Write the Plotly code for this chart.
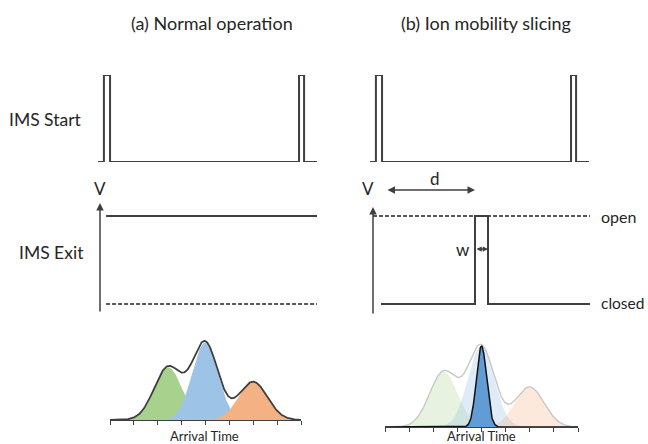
import numpy as np
import plotly.graph_objects as go

W, H = 648, 444

# ---------------- data ----------------
# IMS start pulse train (time in % of cycle, level 0/1)
START_T = [0, 2.7, 2.7, 5.5, 5.5, 91.8, 91.8, 94.1, 94.1, 100]
START_V = [0, 0, 1, 1, 0, 0, 1, 1, 0, 0]

# IMS exit gate (a): always open
EXIT_A_OPEN_T = [2.8, 100]
EXIT_A_CLOSED_T = [2.8, 100]
# IMS exit gate (b): slicing window
GATE_T = [3.7, 47.0, 47.0, 53.0, 53.0, 100]
GATE_V = [0, 0, 1, 1, 0, 0]
OPEN_REF_T = [0, 100]

# arrival-time peaks (arrival time units 0..8)
PEAK_NAMES = ["green", "blue", "orange"]
PEAK_CENTERS = [2.43, 3.98, 5.99]
PEAK_HEIGHTS = [0.62, 0.91, 0.45]
PEAK_SIGMAS = [0.58, 0.54, 0.60]
SLICE_CENTER = 4.0
SLICE_HEIGHT = 0.91
SLICE_SIGMA = 0.21

COLORS = ["rgb(169,209,142)", "rgb(157,195,230)", "rgb(244,177,131)"]
FADED = ["rgba(169,209,142,0.28)", "rgba(157,195,230,0.32)", "rgba(244,177,131,0.28)"]
LINE = "#3f3f3f"
FONT = "Lato"


def px_x(x0, x1):
    return [x0 / W, x1 / W]


def px_y(ytop, ybot):
    return [1 - ybot / H, 1 - ytop / H]


fig = go.Figure()

t = np.linspace(0, 8, 400)


def gauss(c, h, s):
    return h * np.exp(-0.5 * ((t - c) / s) ** 2)


comps = [gauss(c, h, s) for c, h, s in zip(PEAK_CENTERS, PEAK_HEIGHTS, PEAK_SIGMAS)]
env = np.sum(comps, axis=0)

# ----- start pulses -----
for i, ax in enumerate(["", "2"]):
    fig.add_trace(go.Scatter(x=START_T, y=START_V, mode="lines",
                             line=dict(color=LINE, width=2),
                             xaxis="x" + ax, yaxis="y" + ax, showlegend=False,
                             hoverinfo="skip"))

# ----- exit (a) -----
fig.add_trace(go.Scatter(x=EXIT_A_OPEN_T, y=[1, 1], mode="lines",
                         line=dict(color=LINE, width=2), xaxis="x3", yaxis="y3",
                         showlegend=False))
fig.add_trace(go.Scatter(x=EXIT_A_CLOSED_T, y=[0, 0], mode="lines",
                         line=dict(color="#222", width=1.6, dash="4px,2px"),
                         xaxis="x3", yaxis="y3", showlegend=False))
# ----- exit (b) -----
fig.add_trace(go.Scatter(x=OPEN_REF_T, y=[1, 1], mode="lines",
                         line=dict(color="#222", width=1.6, dash="4px,2px"),
                         xaxis="x4", yaxis="y4", showlegend=False))
fig.add_trace(go.Scatter(x=GATE_T, y=GATE_V, mode="lines",
                         line=dict(color=LINE, width=2), xaxis="x4", yaxis="y4",
                         showlegend=False))

# ----- peaks (a) -----
for comp, col in zip(comps, COLORS):
    fig.add_trace(go.Scatter(x=t, y=comp, mode="lines", fill="tozeroy",
                             fillcolor=col, line=dict(width=0),
                             xaxis="x5", yaxis="y5", showlegend=False))
fig.add_trace(go.Scatter(x=t, y=env, mode="lines", line=dict(color=LINE, width=1.8),
                         xaxis="x5", yaxis="y5", showlegend=False))

# ----- peaks (b) -----
for comp, col in zip(comps, FADED):
    fig.add_trace(go.Scatter(x=t, y=comp, mode="lines", fill="tozeroy",
                             fillcolor=col, line=dict(width=0),
                             xaxis="x6", yaxis="y6", showlegend=False))
fig.add_trace(go.Scatter(x=t, y=env, mode="lines",
                         line=dict(color="rgb(200,200,200)", width=1.4),
                         xaxis="x6", yaxis="y6", showlegend=False))
slice_peak = SLICE_HEIGHT * np.exp(-0.5 * ((t - SLICE_CENTER) / SLICE_SIGMA) ** 2)
fig.add_trace(go.Scatter(x=t, y=slice_peak, mode="lines", fill="tozeroy",
                         fillcolor="rgb(98,156,212)", line=dict(color="#111", width=1.5),
                         xaxis="x6", yaxis="y6", showlegend=False))

# ---------------- axes ----------------
hidden = dict(visible=False, fixedrange=True)
exit_yrange = [-0.159, 1.523]
peak_x = dict(range=[0, 8], dtick=1, tick0=0, ticks="outside", ticklen=4,
              tickcolor=LINE, tickwidth=1, showticklabels=False, showgrid=False,
              zeroline=False, showline=True, linecolor=LINE, linewidth=1.2)
peak_y = dict(range=[0, 1], visible=False)

layout = dict(
    width=W, height=H, margin=dict(l=0, r=0, t=0, b=0),
    paper_bgcolor="white", plot_bgcolor="rgba(0,0,0,0)",
    showlegend=False,
    xaxis=dict(domain=px_x(98, 317), range=[0, 100], **hidden),
    yaxis=dict(domain=px_y(75, 162), range=[0, 1], **hidden),
    xaxis2=dict(domain=px_x(370, 589), range=[0, 100], **hidden),
    yaxis2=dict(domain=px_y(75, 162), range=[0, 1], **hidden),
    xaxis3=dict(domain=px_x(100, 317), range=[0, 100], **hidden),
    yaxis3=dict(domain=px_y(170, 318), range=exit_yrange, **hidden),
    xaxis4=dict(domain=px_x(373, 590), range=[0, 100], **hidden),
    yaxis4=dict(domain=px_y(170, 318), range=exit_yrange, **hidden),
    xaxis5=dict(domain=px_x(110, 301), anchor="y5", **peak_x),
    yaxis5=dict(domain=px_y(335, 420), anchor="x5", **peak_y),
    xaxis6=dict(domain=px_x(385, 578), anchor="y6", **peak_x),
    yaxis6=dict(domain=px_y(338, 427), anchor="x6", **peak_y),
)
fig.update_layout(**layout)

ann = []


def ptext(text, x, y, size=14, xanchor="center"):
    ann.append(dict(text=text, x=x / W, y=1 - y / H, xref="paper", yref="paper",
                    showarrow=False, xanchor=xanchor, yanchor="middle",
                    font=dict(family=FONT, size=size, color="#262626")))


ptext("(a) Normal operation", 212, 23, 18)
ptext("(b) Ion mobility slicing", 486, 23, 18)
ptext("IMS Start", 45.5, 119, 17.5)
ptext("IMS Exit", 51, 252, 17.5)
ptext("V", 100, 188, 17)
ptext("V", 368, 188, 17)
ptext("d", 435, 178, 17)
ptext("w", 463, 249, 17)
ptext("open", 599, 216, 16, "left")
ptext("closed", 599, 303, 15.5, "left")
ptext("Arrival Time", 204, 435.5, 13)
ptext("Arrival Time", 481, 435.5, 13)


def arrow(xr, yr, x, y, ax_, ay_, side="end", size=1.0, head=2):
    ann.append(dict(x=x, y=y, ax=ax_, ay=ay_, xref=xr, yref=yr, axref=xr, ayref=yr,
                    text="", showarrow=True, arrowhead=head, startarrowhead=head,
                    arrowsize=size, startarrowsize=size,
                    arrowwidth=1.5, arrowcolor=LINE, arrowside=side))


# V axes
arrow("x3", "y3", 0, 1.148, 0, -0.102)
arrow("x4", "y4", 0, 1.102, 0, -0.125)
# d arrow
arrow("x4", "y4", GATE_T[1], 1.295, 6.0, 1.295, side="end+start")
# w arrow
arrow("x4", "y4", GATE_T[3], 0.625, GATE_T[1], 0.625, side="end+start", size=0.7)

fig.update_layout(annotations=ann)
fig.write_html("out.html")
